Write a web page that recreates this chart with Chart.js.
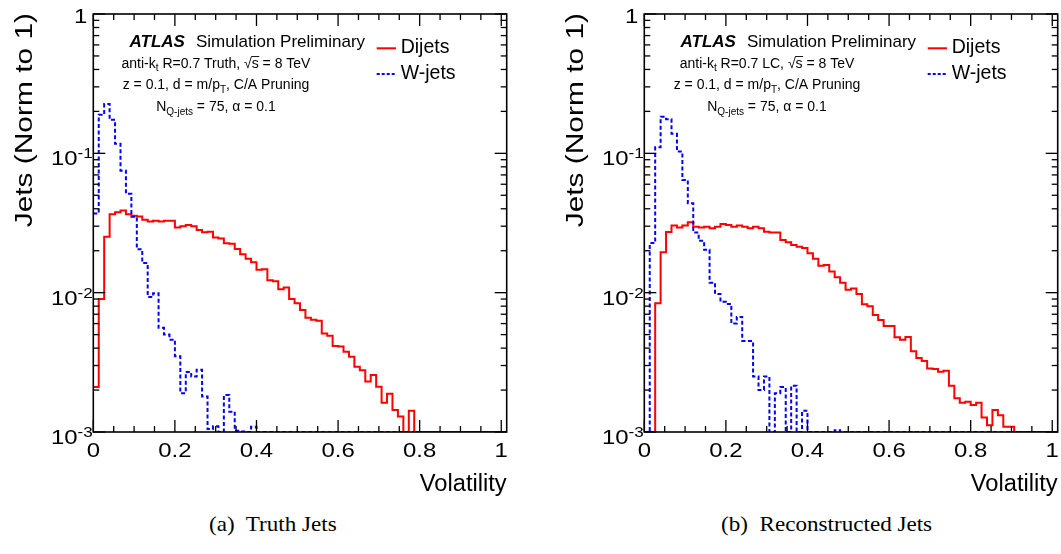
<!DOCTYPE html>
<html><head><meta charset="utf-8">
<script src="https://cdn.jsdelivr.net/npm/chart.js@4.4.1/dist/chart.umd.min.js"></script>
<style>
html,body{margin:0;padding:0;background:#fff;}
#wrap{position:relative;width:1061px;height:554px;overflow:hidden;background:#fff;}
canvas{position:absolute;top:0;}
.cap{position:absolute;font-family:'Liberation Serif','Times New Roman',serif;font-size:21px;color:#000;white-space:pre;transform:translateX(-50%) scaleX(1.1);transform-origin:0 0;line-height:24px;}
</style></head><body>
<div id="wrap">
<canvas id="c1" width="510" height="500" style="left:0px"></canvas>
<canvas id="c2" width="510" height="500" style="left:551px"></canvas>
<div class="cap" id="capA" style="left:267px;top:512px"></div>
<div class="cap" id="capB" style="left:817px;top:512px"></div>
</div>
<script>
// ---- binning (75 bins of width 1/75, axis to 76/75) ----
const binWidth = 1 / 75;
const xMax = 76 / 75;
const yMin = 0.001, yMax = 1;

// ---- (a) Truth jets ----
const truthDijets = [
  0.0021, 0.0090, 0.0252, 0.0366, 0.0378, 0.0388, 0.0366, 0.0356, 0.0352, 0.0333,
  0.0324, 0.0328, 0.0324, 0.0328, 0.0328, 0.0293, 0.0300, 0.0306, 0.0300, 0.0282,
  0.0271, 0.0274, 0.0249, 0.0245, 0.0226, 0.0224, 0.0206, 0.0189, 0.0175, 0.0165,
  0.0146, 0.0147, 0.0123, 0.0121, 0.0106, 0.0109, 0.0090, 0.0084, 0.0075, 0.0066,
  0.0064, 0.0063, 0.0051, 0.0049, 0.00414, 0.0041, 0.00377, 0.00347, 0.00294, 0.00278,
  0.0023, 0.00257, 0.00211, 0.00162, 0.00188, 0.00144, 0.00129, 0, 0.00142, 0,
  0, 0, 0, 0, 0, 0, 0, 0, 0, 0,
  0, 0, 0, 0, 0, 0
];
const truthWjets = [
  0.037, 0.189, 0.226, 0.174, 0.117, 0.0751, 0.0512, 0.0351, 0.0205, 0.0163,
  0.0093, 0.0099, 0.0056, 0.0050, 0.0046, 0.0035, 0.0019, 0.0027, 0.0025, 0.0028,
  0.0018, 0.00105, 0.0011, 0, 0.00184, 0.0014, 0.00102, 0.00101, 0, 0.00109,
  0, 0, 0, 0, 0, 0, 0, 0, 0, 0,
  0, 0, 0, 0, 0, 0, 0, 0, 0, 0,
  0, 0, 0, 0, 0, 0, 0, 0, 0, 0,
  0, 0, 0, 0, 0, 0, 0, 0, 0, 0,
  0, 0, 0, 0, 0, 0
];

// ---- (b) Reconstructed jets ----
const recoDijets = [
  0, 0, 0.0084, 0.0195, 0.0272, 0.0303, 0.0293, 0.0303, 0.0320, 0.0297,
  0.0293, 0.0297, 0.0290, 0.0297, 0.0311, 0.0306, 0.0297, 0.0303, 0.0297, 0.0290,
  0.0297, 0.0290, 0.0274, 0.0270, 0.0270, 0.0239, 0.0230, 0.0220, 0.0214, 0.0209,
  0.0192, 0.0175, 0.0156, 0.0158, 0.0142, 0.0129, 0.0118, 0.0105, 0.0107, 0.0098,
  0.00826, 0.0080, 0.00692, 0.00637, 0.00577, 0.00577, 0.00478, 0.0046, 0.0048, 0.0038,
  0.0034, 0.00323, 0.00286, 0.00283, 0.00271, 0.00275, 0.00215, 0.00175, 0.00162, 0.00165,
  0.00156, 0.00162, 0.00127, 0.00112, 0.00144, 0.00132, 0.00109, 0.00109, 0, 0,
  0, 0, 0, 0, 0, 0
];
const recoWjets = [
  0, 0.0227, 0.1107, 0.183, 0.176, 0.138, 0.103, 0.0644, 0.0438, 0.027,
  0.0236, 0.0203, 0.0118, 0.0098, 0.0086, 0.0083, 0.0060, 0.0067, 0.0045, 0.0045,
  0.0025, 0.0020, 0.0025, 0, 0.0019, 0.0021, 0, 0.00215, 0, 0.00142,
  0, 0, 0, 0, 0, 0.00103, 0, 0, 0, 0,
  0, 0, 0, 0, 0, 0, 0, 0, 0, 0,
  0, 0, 0, 0, 0, 0, 0, 0, 0, 0,
  0, 0, 0, 0, 0, 0, 0, 0, 0, 0,
  0, 0, 0, 0, 0, 0
];

// ---- axis ticks / labels ----
const xTickValues = [0, 0.2, 0.4, 0.6, 0.8, 1];
const xTickLabels = ['0', '0.2', '0.4', '0.6', '0.8', '1'];
const xMinorStep = 0.05;
const yDecades = [0.001, 0.01, 0.1, 1];
const yTickBase = ['10', '10', '10', '1'];
const yTickSup = ['-3', '-2', '-1', ''];
const seriesNames = ['Dijets', 'W-jets'];
const xTitle = 'Volatility';
const yTitle = 'Jets (Norm to 1)';
const captions = ['(a)  Truth Jets', '(b)  Reconstructed Jets'];
const detectorLabels = ['Truth', 'LC'];

const SANS = "'Liberation Sans', Arial, Helvetica, sans-serif";
function F(size, style) { return (style ? style + ' ' : '') + size + 'px ' + SANS; }

function drawRich(ctx, parts, x, y, align, sx) {
  sx = sx || 1;
  let w = 0;
  parts.forEach(p => { ctx.font = p.font; p._w = ctx.measureText(p.text).width; w += p._w; });
  const x0 = align === 'center' ? x - w * sx / 2 : (align === 'right' ? x - w * sx : x);
  ctx.save();
  ctx.translate(x0, y);
  ctx.scale(sx, 1);
  ctx.textAlign = 'left';
  ctx.textBaseline = 'alphabetic';
  ctx.fillStyle = '#000';
  let cx = 0;
  parts.forEach(p => {
    ctx.font = p.font;
    ctx.fillText(p.text, cx, p.dy || 0);
    if (p.overline) {
      ctx.strokeStyle = '#000'; ctx.lineWidth = 0.9;
      ctx.beginPath(); ctx.moveTo(cx - 0.5, -p.overline); ctx.lineTo(cx + p._w + 0.5, -p.overline); ctx.stroke();
    }
    cx += p._w;
  });
  ctx.restore();
}

function histPoints(vals) {
  const pts = vals.map((v, i) => ({ x: i * binWidth, y: Math.max(v, yMin) }));
  pts.push({ x: vals.length * binWidth, y: Math.max(vals[vals.length - 1], yMin) });
  return pts;
}

function decorPlugin(detector) {
  return {
    id: 'decor',
    afterDraw(chart) {
      const ctx = chart.ctx;
      const { left, right, top, bottom } = chart.chartArea;
      const xs = chart.scales.x, ys = chart.scales.y;
      ctx.save();
      // frame
      ctx.strokeStyle = '#000';
      ctx.lineWidth = 1.6;
      ctx.strokeRect(left, top, right - left, bottom - top);
      ctx.lineWidth = 1.3;
      const seg = (x1, y1, x2, y2) => { ctx.beginPath(); ctx.moveTo(x1, y1); ctx.lineTo(x2, y2); ctx.stroke(); };
      // x ticks (bottom & top)
      for (let k = 0; k * xMinorStep <= 1.0001; k++) {
        const v = k * xMinorStep;
        const px = xs.getPixelForValue(v);
        const len = (k % 4 === 0) ? 12 : 6;
        seg(px, bottom, px, bottom - len);
        seg(px, top, px, top + len);
      }
      // y ticks (left & right)
      yDecades.forEach((d, i) => {
        const py = ys.getPixelForValue(d);
        seg(left, py, left + 12, py); seg(right, py, right - 12, py);
        if (i < yDecades.length - 1) {
          for (let m = 2; m <= 9; m++) {
            const pm = ys.getPixelForValue(m * d);
            seg(left, pm, left + 6, pm); seg(right, pm, right - 6, pm);
          }
        }
      });
      // x tick labels
      xTickValues.forEach((v, i) => {
        drawRich(ctx, [{ text: xTickLabels[i], font: F(21) }], xs.getPixelForValue(v), bottom + 24.7, 'center', 1.14);
      });
      // y tick labels
      yDecades.forEach((d, i) => {
        const py = ys.getPixelForValue(d);
        if (yTickSup[i]) {
          drawRich(ctx, [{ text: yTickBase[i], font: F(21) }, { text: yTickSup[i], font: F(15), dy: -7 }], left - 0.5, py + 12, 'right', 1.14);
        } else {
          drawRich(ctx, [{ text: yTickBase[i], font: F(21) }], left - 6, py + 9, 'right', 1.14);
        }
      });
      // axis titles
      drawRich(ctx, [{ text: xTitle, font: F(23) }], right, 491, 'right', 1.03);
      ctx.save();
      ctx.translate(31.7, top - 1);
      ctx.rotate(-Math.PI / 2);
      drawRich(ctx, [{ text: yTitle, font: F(23) }], 0, 0, 'right', 1.3);
      ctx.restore();
      // ATLAS label block
      drawRich(ctx, [{ text: 'ATLAS', font: F(17, 'italic bold') }], 129.5, 47, 'left', 1);
      drawRich(ctx, [{ text: 'Simulation Preliminary', font: F(17) }], 196, 47, 'left', 1);
      const cxText = 216;
      drawRich(ctx, [
        { text: 'anti-k', font: F(14) }, { text: 't', font: F(10), dy: 3 },
        { text: ' R=0.7 ' + detector + ', ', font: F(14) },
        { text: '\u221A', font: F(14) }, { text: 's', font: F(14), overline: 11 },
        { text: ' = 8 TeV', font: F(14) }
      ], cxText, 67.5, 'center', 1);
      drawRich(ctx, [
        { text: 'z = 0.1, d = m/p', font: F(14) }, { text: 'T', font: F(10), dy: 4 },
        { text: ', C/A Pruning', font: F(14) }
      ], cxText, 89, 'center', 1);
      drawRich(ctx, [
        { text: 'N', font: F(14) }, { text: 'Q-jets', font: F(10), dy: 4 },
        { text: ' = 75, \u03B1 = 0.1', font: F(14) }
      ], cxText, 110.5, 'center', 1);
      // legend
      ctx.lineWidth = 2;
      ctx.strokeStyle = '#ff0000';
      seg(376.7, 48.3, 396, 48.3);
      ctx.strokeStyle = '#0000ff';
      ctx.setLineDash([3, 2]);
      seg(376.7, 74, 396, 74);
      ctx.setLineDash([]);
      drawRich(ctx, [{ text: seriesNames[0], font: F(19.5) }], 400.7, 53.3, 'left', 1);
      drawRich(ctx, [{ text: seriesNames[1], font: F(19.5) }], 400.7, 79.3, 'left', 1);
      ctx.restore();
    }
  };
}

function makePanel(id, dij, wj, detector) {
  return new Chart(document.getElementById(id), {
    type: 'line',
    data: {
      datasets: [
        { label: seriesNames[1], data: histPoints(wj), borderColor: '#0000ff', borderWidth: 2,
          borderDash: [4, 2.5], stepped: true, pointRadius: 0, fill: false, borderJoinStyle: 'miter' },
        { label: seriesNames[0], data: histPoints(dij), borderColor: '#ff0000', borderWidth: 2,
          stepped: true, pointRadius: 0, fill: false, borderJoinStyle: 'miter' }
      ]
    },
    options: {
      responsive: false, animation: false, devicePixelRatio: 1,
      layout: { padding: { left: 93.3, top: 14, right: 3.3, bottom: 68 } },
      scales: {
        x: { type: 'linear', display: false, min: 0, max: xMax },
        y: { type: 'logarithmic', display: false, min: yMin, max: yMax }
      },
      plugins: { legend: { display: false }, tooltip: { enabled: false } },
      events: []
    },
    plugins: [decorPlugin(detector)]
  });
}

makePanel('c1', truthDijets, truthWjets, detectorLabels[0]);
makePanel('c2', recoDijets, recoWjets, detectorLabels[1]);
document.getElementById('capA').textContent = captions[0];
document.getElementById('capB').textContent = captions[1];
</script>
</body></html>
